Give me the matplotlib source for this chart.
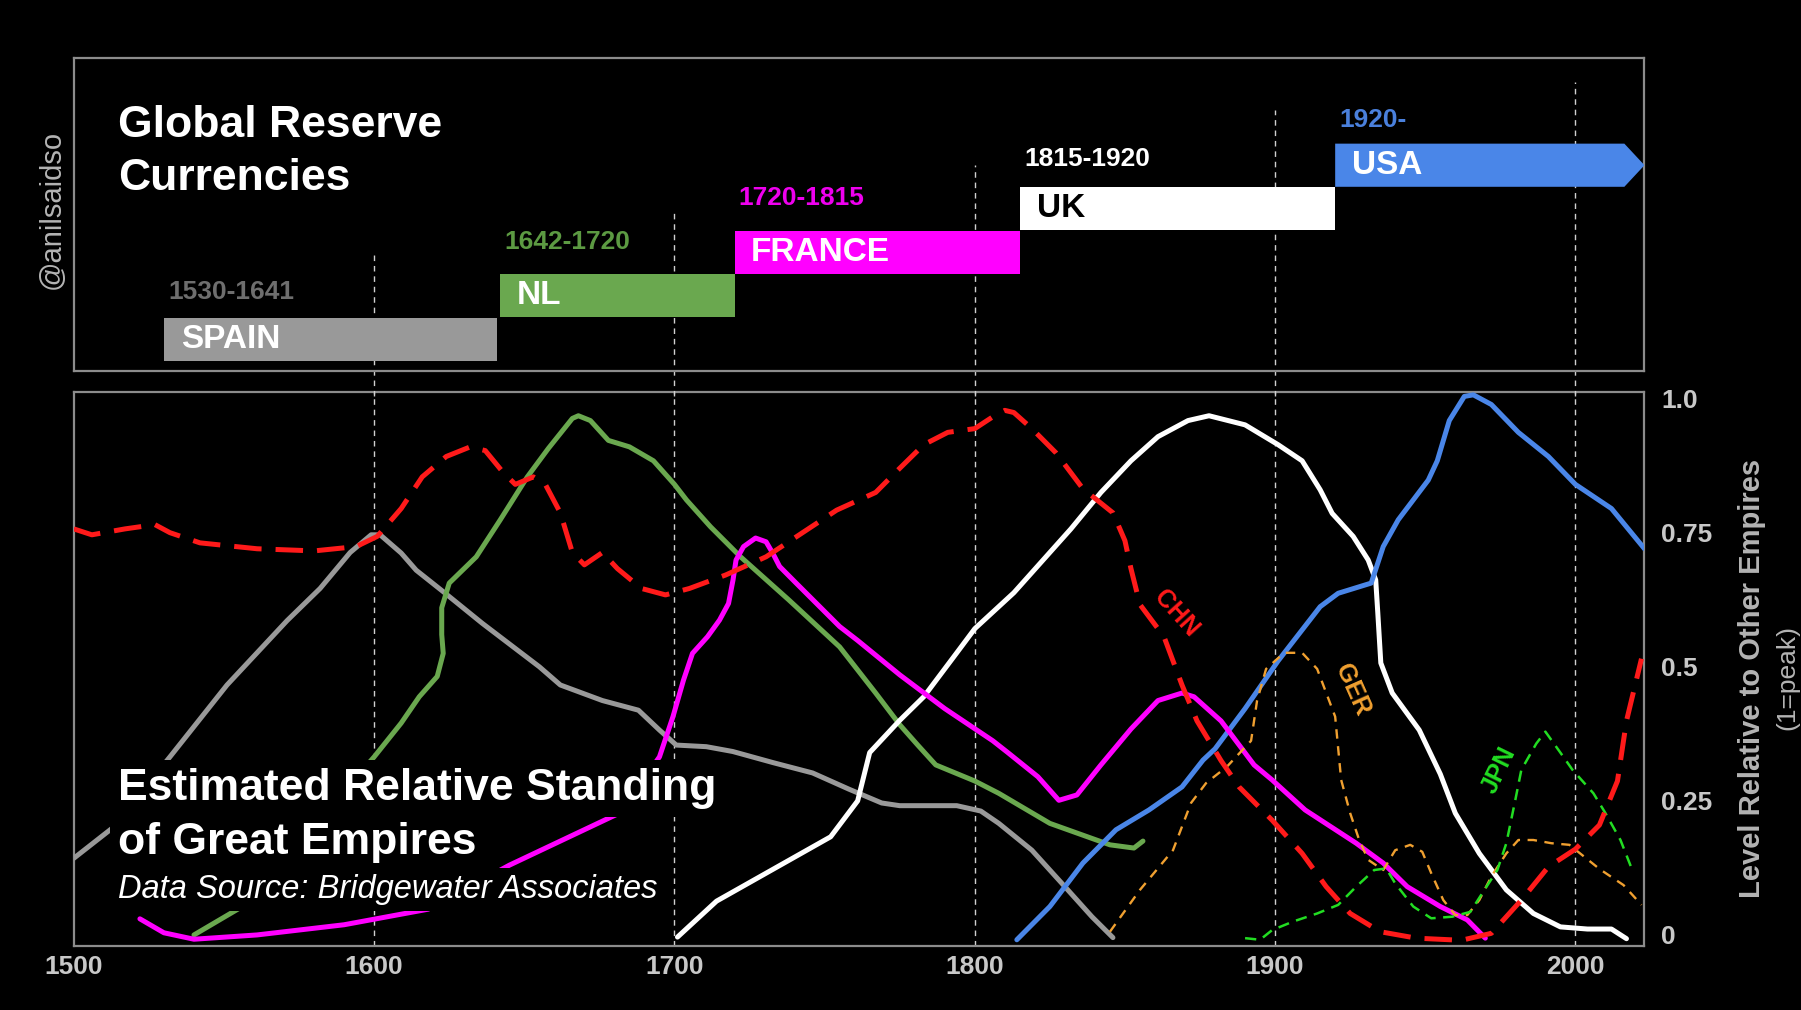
import matplotlib
matplotlib.use("Agg")
import matplotlib.pyplot as plt
from matplotlib.patches import Rectangle, Polygon

plt.rcParams['font.family'] = ['Liberation Sans', 'DejaVu Sans']

# ---------------- reserve-currency periods (top panel) ----------------
period_names = ["SPAIN", "NL", "FRANCE", "UK", "USA"]
period_labels = ["1530-1641", "1642-1720", "1720-1815", "1815-1920", "1920-"]
period_start = [1530, 1642, 1720, 1815, 1920]
period_end = [1641, 1720, 1815, 1920, None]   # None = ongoing

# ---------------- relative standing of empires (bottom panel) ----------------
spain_years = [1500, 1513, 1532, 1551, 1571, 1582, 1592, 1599, 1602, 1609, 1614, 1623, 1636,
               1655, 1662, 1676, 1688, 1695, 1700.6, 1710.6, 1719.4, 1733, 1746, 1758, 1769,
               1775, 1794, 1802, 1808, 1819, 1830, 1839, 1846]
spain_vals = [0.143, 0.2, 0.332, 0.466, 0.586, 0.646, 0.713, 0.746, 0.746, 0.712, 0.68, 0.64,
              0.581, 0.5, 0.466, 0.437, 0.419, 0.382, 0.354, 0.351, 0.342, 0.321, 0.302, 0.272,
              0.246, 0.241, 0.241, 0.231, 0.208, 0.158, 0.09, 0.034, -0.005]

nl_years = [1540, 1557, 1600, 1609, 1615, 1621, 1623, 1622.5, 1622.5, 1625, 1634, 1642, 1651,
            1658, 1666, 1668, 1672, 1678, 1685, 1693, 1700, 1704, 1712, 1722, 1738, 1755, 1767,
            1775, 1781, 1787, 1800, 1808, 1825, 1836, 1845, 1853, 1856]
nl_vals = [0.0, 0.056, 0.332, 0.395, 0.444, 0.482, 0.525, 0.56, 0.61, 0.656, 0.705, 0.774, 0.854,
           0.907, 0.963, 0.968, 0.959, 0.922, 0.91, 0.884, 0.84, 0.811, 0.761, 0.705, 0.625, 0.537,
           0.451, 0.392, 0.354, 0.317, 0.287, 0.264, 0.208, 0.186, 0.168, 0.162, 0.175]

france_years = [1522, 1530, 1540, 1561, 1590, 1618, 1645, 1682, 1695, 1699.5, 1703, 1706, 1711,
                1715, 1718, 1719.5, 1720.5, 1723, 1727, 1730.5, 1732.7, 1735, 1740.5, 1755, 1761,
                1775, 1790, 1806, 1811, 1821, 1828, 1834, 1842, 1852, 1861, 1869, 1873, 1882,
                1893, 1899, 1910, 1927, 1936, 1944, 1955, 1964, 1970]
france_vals = [0.03, 0.004, -0.008, 0.0, 0.019, 0.048, 0.13, 0.228, 0.332, 0.407, 0.475, 0.525,
               0.556, 0.587, 0.618, 0.662, 0.699, 0.724, 0.74, 0.733, 0.712, 0.687, 0.656, 0.575,
               0.549, 0.485, 0.422, 0.362, 0.34, 0.295, 0.251, 0.261, 0.317, 0.384, 0.437, 0.451,
               0.444, 0.399, 0.317, 0.289, 0.233, 0.171, 0.134, 0.09, 0.053, 0.028, -0.006]

uk_years = [1701, 1714, 1733, 1752, 1761, 1765, 1775, 1783, 1794, 1800, 1813, 1832, 1842, 1852,
            1861, 1871, 1878, 1890, 1901, 1909, 1915, 1919, 1926, 1931, 1933.5, 1934.2, 1935.2,
            1939, 1948, 1955, 1960, 1968, 1977, 1986, 1995, 2004, 2012, 2017]
uk_vals = [-0.004, 0.063, 0.123, 0.183, 0.25, 0.34, 0.4, 0.444, 0.526, 0.571, 0.638, 0.757, 0.825,
           0.884, 0.929, 0.959, 0.968, 0.951, 0.914, 0.884, 0.83, 0.786, 0.743, 0.699, 0.662, 0.6,
           0.507, 0.451, 0.382, 0.3, 0.227, 0.152, 0.084, 0.04, 0.015, 0.011, 0.011, -0.007]

usa_years = [1814, 1825, 1836, 1847, 1858, 1869, 1876, 1880, 1890, 1901, 1915, 1921, 1932, 1936,
             1941, 1951, 1954, 1958, 1963, 1966, 1972, 1981, 1991, 2000, 2012, 2023]
usa_vals = [-0.009, 0.053, 0.134, 0.196, 0.233, 0.276, 0.326, 0.347, 0.422, 0.511, 0.612, 0.637,
            0.656, 0.724, 0.774, 0.848, 0.884, 0.959, 1.004, 1.007, 0.989, 0.937, 0.892, 0.84,
            0.795, 0.72]

china_years = [1500, 1506, 1517, 1527, 1532, 1542, 1561, 1580, 1594, 1601, 1609, 1616, 1624, 1632,
               1637, 1643, 1647, 1653, 1657, 1662, 1666, 1670, 1676, 1681, 1689, 1697, 1705, 1717,
               1730.5, 1744, 1754, 1767, 1775, 1783, 1791, 1800, 1806, 1810, 1813, 1819, 1827,
               1836, 1846, 1850, 1852, 1855, 1863, 1869, 1874, 1882, 1888, 1899, 1909, 1917, 1925,
               1935, 1947, 1962, 1972, 1982, 1991, 2000, 2008, 2014, 2017, 2022]
china_vals = [0.757, 0.746, 0.757, 0.765, 0.75, 0.731, 0.72, 0.716, 0.724, 0.743, 0.795, 0.854,
              0.892, 0.91, 0.903, 0.862, 0.84, 0.854, 0.84, 0.787, 0.713, 0.69, 0.713, 0.683, 0.646,
              0.634, 0.646, 0.671, 0.705, 0.755, 0.792, 0.825, 0.87, 0.914, 0.937, 0.944,
              0.966, 0.978, 0.974, 0.944, 0.899, 0.832, 0.787, 0.735, 0.683, 0.616, 0.556, 0.466,
              0.399, 0.325, 0.276, 0.214, 0.152, 0.09, 0.04, 0.006, -0.006, -0.01, 0.003, 0.065,
              0.127, 0.16, 0.205, 0.287, 0.399, 0.515]

germany_years = [1845, 1855, 1866, 1872, 1877, 1884, 1892, 1894, 1897, 1903, 1909, 1914, 1920,
                 1922, 1925, 1928, 1931, 1936, 1940, 1945, 1949, 1952, 1956, 1960, 1964, 1968,
                 1972, 1977, 1981, 1986, 1992, 1998, 2008, 2016, 2022]
germany_vals = [0.006, 0.084, 0.158, 0.246, 0.283, 0.314, 0.362, 0.437, 0.496, 0.526, 0.526, 0.496,
                0.407, 0.289, 0.227, 0.177, 0.14, 0.121, 0.158, 0.168, 0.155, 0.115, 0.065, 0.037,
                0.037, 0.065, 0.109, 0.152, 0.177, 0.177, 0.171, 0.168, 0.123, 0.093, 0.056]

japan_years = [1890, 1895, 1899, 1906, 1914, 1921, 1927, 1933, 1937, 1940, 1946, 1952, 1959, 1965,
               1969, 1974, 1977, 1980, 1982, 1987, 1990, 1996, 1999, 2006, 2010, 2015, 2019]
japan_vals = [-0.006, -0.009, 0.009, 0.025, 0.04, 0.056, 0.09, 0.121, 0.124, 0.096, 0.053, 0.031,
              0.034, 0.043, 0.078, 0.121, 0.171, 0.252, 0.308, 0.357, 0.379, 0.332, 0.308, 0.264,
              0.227, 0.177, 0.12]

# ---------------- styling ----------------
BG = "black"
SPAIN_C, NL_C, FR_C, UK_C, US_C = "#999999", "#6aa84f", "#ff00ff", "#ffffff", "#4a86e8"
CHN_C, GER_C, JPN_C = "#ff1a1a", "#f0a030", "#22dd22"
SPINE_C = "#8c8c8c"
GRID_C = "#d0d0d0"
TICK_C = "#c8c8c8"

XMIN, XMAX = 1500, 2023
decades = [1600, 1700, 1800, 1900, 2000]

fig = plt.figure(figsize=(18.01, 10.10), dpi=100, facecolor=BG)
ax = fig.add_axes([0.0410, 0.0637, 0.8721, 0.5482], facecolor=BG)
axt = fig.add_axes([0.0410, 0.6327, 0.8721, 0.3096], facecolor=BG)

for a in (ax, axt):
    a.set_xlim(XMIN, XMAX)
    for s in a.spines.values():
        s.set_color(SPINE_C)
        s.set_linewidth(1.6)

# ---------------- top panel: staircase of reserve currencies ----------------
axt.set_ylim(0, 1)
axt.set_xticks([])
axt.set_yticks([])

grid_tops = [0.371, 0.504, 0.659, 0.835, 0.925]
for yr, top in zip(decades, grid_tops):
    axt.plot([yr, yr], [-0.08, top], color=GRID_C, lw=1.0, ls=(0, (4, 3.5)),
             clip_on=False, zorder=1)

bar_colors = [SPAIN_C, NL_C, FR_C, UK_C, US_C]
label_colors = ["#6e6e6e", "#5c9a42", "#ee00ee", "#ffffff", "#4a80dc"]
name_colors = ["white", "white", "white", "black", "white"]
bar_h = 0.138
label_gap = [0.082, 0.103, 0.103, 0.091, 0.075]
for i, (name, lab, s, e) in enumerate(zip(period_names, period_labels, period_start, period_end)):
    b = 0.033 + 0.139 * i
    if e is None:
        body_end = XMAX - 6.7
        poly = Polygon([(s, b), (body_end, b), (XMAX, b + bar_h / 2),
                        (body_end, b + bar_h), (s, b + bar_h)],
                       closed=True, fc=bar_colors[i], ec="none", zorder=3)
        axt.add_patch(poly)
    else:
        axt.add_patch(Rectangle((s, b), e - s, bar_h, fc=bar_colors[i], ec="none", zorder=3))
    axt.annotate(name, (s, b + bar_h / 2), xytext=(12, 0), textcoords="offset points",
                 ha="left", va="center", fontsize=24, fontweight="bold",
                 color=name_colors[i], zorder=4)
    axt.annotate(lab, (s, b + bar_h + label_gap[i]), xytext=(3, 0), textcoords="offset points",
                 ha="left", va="center", fontsize=19, fontweight="bold",
                 color=label_colors[i], zorder=4)

fig.text(0.0654, 0.8647, "Global Reserve", fontsize=32, fontweight="bold",
         color="white", ha="left", va="baseline")
fig.text(0.0654, 0.8119, "Currencies", fontsize=32, fontweight="bold",
         color="white", ha="left", va="baseline")

fig.text(0.0287, 0.793, "@anilsaidso", rotation=90, fontsize=21, color="#b4b4b4",
         ha="center", va="center")

# ---------------- bottom panel: relative standing ----------------
ax.set_ylim(-0.020, 1.0123)
for yr in decades:
    ax.axvline(yr, color=GRID_C, lw=1.0, ls=(0, (4, 3.5)), zorder=1)

thick = 3.6
solid = dict(lw=thick, solid_joinstyle="round", solid_capstyle="round")
ax.plot(spain_years, spain_vals, color=SPAIN_C, zorder=3, **solid)
ax.plot(nl_years, nl_vals, color=NL_C, zorder=3, **solid)
ax.plot(france_years, france_vals, color=FR_C, zorder=4, **solid)
ax.plot(uk_years, uk_vals, color=UK_C, zorder=3, **solid)
ax.plot(usa_years, usa_vals, color=US_C, zorder=3, **solid)
ax.plot(germany_years, germany_vals, color=GER_C, lw=1.7, dashes=(4, 3.2), zorder=4)
ax.plot(japan_years, japan_vals, color=JPN_C, lw=1.8, dashes=(4.5, 3), zorder=4)
ax.plot(china_years, china_vals, color=CHN_C, lw=thick, dashes=(5.5, 2.8), zorder=5)

ax.text(1867, 0.600, "CHN", rotation=-48, fontsize=18, fontweight="bold", color=CHN_C,
        ha="center", va="center", rotation_mode="anchor", zorder=6)
ax.text(1925.8, 0.457, "GER", rotation=-66, fontsize=18, fontweight="bold", color=GER_C,
        ha="center", va="center", rotation_mode="anchor", zorder=6)
ax.text(1974.6, 0.308, "JPN", rotation=64, fontsize=18, fontweight="bold", color=JPN_C,
        ha="center", va="center", rotation_mode="anchor", zorder=6)

# axis ticks
ax.set_xticks([1500, 1600, 1700, 1800, 1900, 2000])
ax.set_xticklabels(["1500", "1600", "1700", "1800", "1900", "2000"])
ax.yaxis.tick_right()
ax.set_yticks([0, 0.25, 0.5, 0.75, 1.0])
ax.set_yticklabels(["0", "0.25", "0.5", "0.75", "1.0"])
ax.tick_params(axis="x", length=0, pad=7, labelsize=19, labelcolor=TICK_C)
ax.tick_params(axis="y", length=0, pad=12, labelsize=19, labelcolor=TICK_C)
for t in ax.get_xticklabels() + ax.get_yticklabels():
    t.set_fontweight("bold")

fig.text(0.9726, 0.3287, "Level Relative to Other Empires", rotation=90, fontsize=21,
         fontweight="bold", color="#b4b4b4", ha="center", va="center")
fig.text(0.9925, 0.3297, "(1=peak)", rotation=90, fontsize=19, color="#b4b4b4",
         ha="center", va="center")

# chart caption with black backing that hides lines behind it
box = dict(boxstyle="square,pad=0.18", fc=BG, ec="none")
fig.text(0.0654, 1 - 800 / 1010, "Estimated Relative Standing", fontsize=32, fontweight="bold",
         color="white", ha="left", va="baseline", bbox=box, zorder=10)
fig.text(0.0654, 1 - 854 / 1010, "of Great Empires", fontsize=32, fontweight="bold",
         color="white", ha="left", va="baseline", bbox=box, zorder=10)
fig.text(0.0654, 1 - 898 / 1010, "Data Source: Bridgewater Associates", fontsize=23.5,
         fontstyle="italic", color="white", ha="left", va="baseline", bbox=box, zorder=10)

fig.savefig("out.png", dpi=100, facecolor=BG)
